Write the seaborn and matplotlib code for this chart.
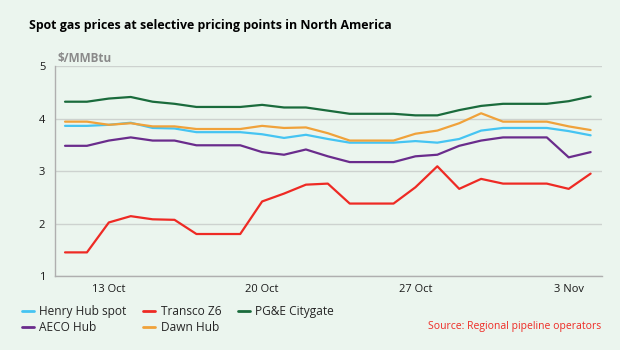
import numpy as np
import pandas as pd
import seaborn as sns
import matplotlib.pyplot as plt

# daily spot prices, $/MMBtu, 11 Oct - 4 Nov
dates = pd.date_range("2023-10-11", "2023-11-04", freq="D")
henry_hub = [3.86, 3.86, 3.88, 3.92, 3.82, 3.81, 3.74, 3.74, 3.74, 3.70, 3.63, 3.69,
             3.61, 3.54, 3.54, 3.54, 3.57, 3.54, 3.61, 3.77, 3.82, 3.82, 3.82, 3.76, 3.68]
transco_z6 = [1.45, 1.45, 2.02, 2.14, 2.08, 2.07, 1.80, 1.80, 1.80, 2.42, 2.57, 2.74,
              2.76, 2.38, 2.38, 2.38, 2.69, 3.09, 2.66, 2.85, 2.76, 2.76, 2.76, 2.66, 2.95]
pge_citygate = [4.32, 4.32, 4.38, 4.41, 4.32, 4.28, 4.22, 4.22, 4.22, 4.26, 4.21, 4.21,
                4.15, 4.09, 4.09, 4.09, 4.06, 4.06, 4.16, 4.24, 4.28, 4.28, 4.28, 4.33, 4.42]
aeco_hub = [3.48, 3.48, 3.58, 3.64, 3.58, 3.58, 3.49, 3.49, 3.49, 3.36, 3.31, 3.41,
            3.28, 3.17, 3.17, 3.17, 3.28, 3.31, 3.48, 3.58, 3.64, 3.64, 3.64, 3.26, 3.36]
dawn_hub = [3.94, 3.94, 3.88, 3.91, 3.85, 3.85, 3.80, 3.80, 3.80, 3.86, 3.82, 3.83,
            3.72, 3.58, 3.58, 3.58, 3.71, 3.77, 3.91, 4.10, 3.94, 3.94, 3.94, 3.85, 3.78]

series = ["Henry Hub spot", "Transco Z6", "PG&E Citygate", "AECO Hub", "Dawn Hub"]
colours = {"Henry Hub spot": "#45C4F2", "Transco Z6": "#EE2A24", "PG&E Citygate": "#1A6B3C",
           "AECO Hub": "#6A2C8C", "Dawn Hub": "#F0A23A"}

df = pd.DataFrame({"Date": dates, "Henry Hub spot": henry_hub, "Transco Z6": transco_z6,
                   "PG&E Citygate": pge_citygate, "AECO Hub": aeco_hub, "Dawn Hub": dawn_hub})
long = df.melt(id_vars="Date", var_name="Series", value_name="Price")

bg = "#EBF5EE"
sns.set_theme(style="white")
plt.rcParams['font.family'] = ['Open Sans', 'DejaVu Sans']

fig = plt.figure(figsize=(6.2, 3.5), dpi=100, facecolor=bg)
ax = fig.add_axes([0.0887, 0.2114, 0.8823, 0.6])
ax.set_facecolor(bg)

sns.lineplot(data=long, x="Date", y="Price", hue="Series", hue_order=series,
             palette=colours, linewidth=1.6, ax=ax, legend=False)

ax.set_ylim(1, 5)
ax.set_yticks([1, 2, 3, 4, 5])
ax.set_xlim(dates[0] - pd.Timedelta(hours=11), dates[-1] + pd.Timedelta(hours=12.5))
ticks = pd.to_datetime(["2023-10-13", "2023-10-20", "2023-10-27", "2023-11-03"])
ax.set_xticks(ticks)
ax.set_xticklabels(["13 Oct", "20 Oct", "27 Oct", "3 Nov"])
ax.set_xlabel("")
ax.set_ylabel("")
ax.grid(axis="y", color="#CDD2CF", linewidth=1)
ax.tick_params(length=0, labelsize=8, colors="#1a1a1a")
ax.tick_params(axis="y", pad=7)
ax.tick_params(axis="x", pad=6)
for s in ["top", "right"]:
    ax.spines[s].set_visible(False)
for s in ["left", "bottom"]:
    ax.spines[s].set_color("#AFAFAF")
    ax.spines[s].set_linewidth(1)

fig.text(29 / 620, 1 - 26 / 350, "Spot gas prices at selective pricing points in North America",
         fontsize=8.9, fontweight="bold", va="center", ha="left", color="black")
fig.text(57 / 620, 1 - 58 / 350, "$/MMBtu", fontsize=8.5, fontweight="bold",
         color="#8A8A8A", va="center", ha="left")
fig.text(601 / 620, 1 - 326 / 350, "Source: Regional pipeline operators", fontsize=7.5,
         color="#EE2A24", va="center", ha="right")

handles = {s: plt.Line2D([], [], color=colours[s], linewidth=2) for s in series}
order = ["Henry Hub spot", "AECO Hub", "Transco Z6", "Dawn Hub", "PG&E Citygate"]
fig.legend([handles[s] for s in order], order, ncol=3, frameon=False, fontsize=8.6,
           loc="upper left", bbox_to_anchor=(22 / 620, 1 - 305 / 350),
           handlelength=1.0, handletextpad=0.45, columnspacing=1.4, labelspacing=0.25,
           borderpad=0, borderaxespad=0)

fig.savefig("out.png", dpi=100, facecolor=bg)
